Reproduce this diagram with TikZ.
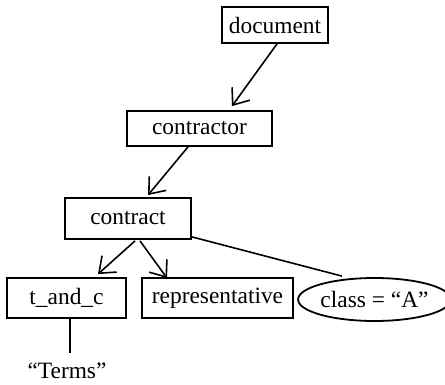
\documentclass[tikz,border=0pt]{standalone}
\usepackage{fontspec}
\setmainfont{Liberation Serif}
\usetikzlibrary{arrows.meta,calc,shapes.geometric}
\begin{document}
\begin{tikzpicture}[x=0.5pt,y=-0.5pt,
  every node/.style={font=\fontsize{11.7}{14}\selectfont},
  box/.style={draw,line width=0.9pt,rectangle,inner sep=0pt,anchor=center},
  oval/.style={draw,line width=0.9pt,ellipse,inner sep=0pt,anchor=center},
  link/.style={line width=0.8pt},
  arr/.style={link,-{Straight Barb[length=7pt,width=11pt,line width=0.8pt]}}]
\useasboundingbox (0,0) rectangle (445,385);
\node[box,minimum width=53pt,minimum height=18pt] (document) at (275,25) {document};
\node[box,minimum width=72.5pt,minimum height=17.5pt] (contractor) at (199.5,128.5) {contractor};
\node[box,minimum width=63pt,minimum height=20.5pt] (contract) at (128,218.5) {contract};
\node[box,minimum width=59.5pt,minimum height=20pt] (tandc) at (66.5,298) {t\_and\_c};
\node[box,minimum width=75.5pt,minimum height=20pt] (rep) at (217.5,298) {representative};
\node[oval,minimum width=69pt,minimum height=21.5pt] (class) at (374.5,299.5) {class = “A”};
\node[inner sep=0pt,anchor=center] (terms) at (67,371) {“Terms”};
\draw[arr] ($(document.south)+(2,0)$) -- ($(contractor.north)+(32.5,-4)$);
\draw[arr] ($(contractor.south)+(-11.5,0)$) -- ($(contract.north)+(20,-2)$);
\draw[arr] ($(contract.south)+(7,1)$) -- ($(tandc.north)+(31.5,-3)$);
\draw[arr] ($(contract.south)+(12,1)$) -- ($(rep.north)+(-50.5,1)$);
\draw[link] ($(contract.south east)+(0,-3)$) -- ($(class.north)+(-32.5,-1)$);
\draw[link] ($(tandc.south)+(3.5,0)$) -- ($(terms.north)+(3,-10)$);
\end{tikzpicture}
\end{document}
